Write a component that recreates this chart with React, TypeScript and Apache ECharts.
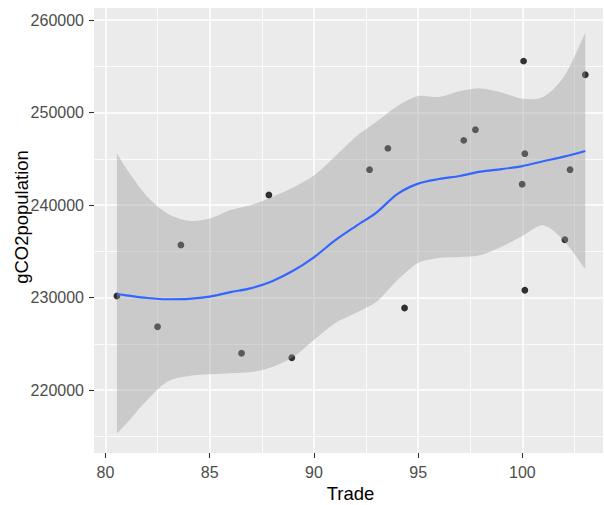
import React, { useEffect, useRef } from "react";
import * as echarts from "echarts";

// Observed points (Trade vs gCO2population)
const tradeX = [80.55, 82.5, 83.62, 86.53, 87.84, 88.94, 92.67, 93.55, 94.35, 97.19, 97.75, 99.99, 100.06, 100.12, 100.12, 102.04, 102.29, 103.02];
const gco2 = [230160, 226840, 235680, 223970, 241080, 223490, 243820, 246120, 228860, 246990, 248140, 242240, 255560, 245550, 230780, 236250, 243820, 254080];

// Smoothed (loess) fit and its confidence band
const fitX = [80.55, 81, 82, 83, 84, 85, 86, 87, 88, 89, 90, 91, 92, 93, 94, 95, 96, 97, 98, 99, 100, 101, 102, 103.02];
const fitY = [230380, 230240, 229950, 229810, 229850, 230090, 230580, 231020, 231770, 232890, 234350, 236150, 237700, 239180, 241180, 242310, 242810, 243140, 243610, 243880, 244210, 244730, 245230, 245840];
const ciLow = [215320, 216350, 218910, 220950, 221520, 221700, 221810, 221940, 222490, 223560, 225420, 227200, 228320, 229540, 231870, 233740, 234280, 234380, 234600, 235490, 236660, 237800, 236110, 233050];
const ciHigh = [245590, 243940, 240910, 239030, 238300, 238540, 239460, 240010, 240870, 241890, 243180, 245210, 247350, 248990, 250680, 251780, 251680, 252290, 252610, 252170, 251490, 251690, 253900, 258630];

// Axis ticks
const xMajor = [80, 85, 90, 95, 100];
const xMinor = [82.5, 87.5, 92.5, 97.5, 102.5];
const yMajor = [220000, 230000, 240000, 250000, 260000];
const yMinor = [215000, 225000, 235000, 245000, 255000];

const FONT = "'Liberation Sans', Arial, sans-serif";

export default function App() {
  const ref = useRef<HTMLDivElement>(null);

  useEffect(() => {
    if (!ref.current) return;
    const chart = echarts.init(ref.current, null, { renderer: "svg" });

    const gridLines: any[] = [];
    xMinor.forEach((v) => gridLines.push({ xAxis: v, lineStyle: { color: "#ffffff", width: 0.8, type: "solid" } }));
    yMinor.forEach((v) => gridLines.push({ yAxis: v, lineStyle: { color: "#ffffff", width: 0.8, type: "solid" } }));
    xMajor.forEach((v) => gridLines.push({ xAxis: v, lineStyle: { color: "#ffffff", width: 1.5, type: "solid" } }));
    yMajor.forEach((v) => gridLines.push({ yAxis: v, lineStyle: { color: "#ffffff", width: 1.5, type: "solid" } }));

    const bandRender = (params: any, api: any) => {
      if (params.dataIndex !== 0) return null;
      const n = fitX.length;
      const pts: number[][] = [];
      // upper edge, left to right (corner points doubled to keep the ends square)
      pts.push(api.coord([fitX[0], ciHigh[0]]));
      for (let i = 0; i < n; i++) pts.push(api.coord([fitX[i], ciHigh[i]]));
      pts.push(api.coord([fitX[n - 1], ciHigh[n - 1]]));
      // lower edge, right to left
      pts.push(api.coord([fitX[n - 1], ciLow[n - 1]]));
      for (let i = n - 1; i >= 0; i--) pts.push(api.coord([fitX[i], ciLow[i]]));
      pts.push(api.coord([fitX[0], ciLow[0]]));
      return {
        type: "polygon",
        shape: { points: pts, smooth: 0.3 },
        style: { fill: "rgba(153,153,153,0.4)", stroke: "none" },
        silent: true,
      };
    };

    chart.setOption({
      animation: false,
      backgroundColor: "#ffffff",
      grid: {
        left: 94,
        top: 8,
        width: 509,
        height: 445,
        show: true,
        backgroundColor: "#EBEBEB",
        borderWidth: 0,
      },
      xAxis: {
        type: "value",
        min: 79.45,
        max: 103.87,
        axisLine: { show: false },
        splitLine: { show: false },
        axisTick: {
          show: true,
          length: 5,
          customValues: xMajor,
          lineStyle: { color: "#333333", width: 1.1 },
        },
        axisLabel: {
          customValues: xMajor,
          color: "#4D4D4D",
          fontFamily: FONT,
          fontSize: 16,
          margin: 11,
          formatter: (v: number) => String(v),
        },
      },
      yAxis: {
        type: "value",
        min: 213190,
        max: 261300,
        axisLine: { show: false },
        splitLine: { show: false },
        axisTick: {
          show: true,
          length: 5,
          customValues: yMajor,
          lineStyle: { color: "#333333", width: 1.1 },
        },
        axisLabel: {
          customValues: yMajor,
          color: "#4D4D4D",
          fontFamily: FONT,
          fontSize: 16,
          margin: 10,
          formatter: (v: number) => String(v),
        },
      },
      graphic: [
        {
          type: "text",
          x: 350.5,
          y: 493,
          style: {
            text: "Trade",
            fill: "#000000",
            font: `18.5px ${FONT}`,
            textAlign: "center",
            textVerticalAlign: "middle",
          },
        },
        {
          type: "text",
          x: 21,
          y: 217,
          rotation: Math.PI / 2,
          style: {
            text: "gCO2population",
            fill: "#000000",
            font: `18.5px ${FONT}`,
            textAlign: "center",
            textVerticalAlign: "middle",
          },
        },
      ],
      series: [
        {
          type: "scatter",
          z: 2,
          symbolSize: 6.8,
          itemStyle: { color: "#000000" },
          data: tradeX.map((x, i) => [x, gco2[i]]),
          silent: true,
          markLine: {
            silent: true,
            z: 1,
            symbol: ["none", "none"],
            label: { show: false },
            emphasis: { disabled: true },
            animation: false,
            data: gridLines,
          },
        },
        {
          type: "custom",
          z: 3,
          silent: true,
          renderItem: bandRender,
          data: fitX.map((x, i) => [x, ciLow[i], ciHigh[i]]),
          encode: { x: 0, y: [1, 2] },
        },
        {
          type: "line",
          z: 4,
          symbol: "none",
          smooth: 0.3,
          silent: true,
          lineStyle: { color: "#3366FF", width: 2.2 },
          data: fitX.map((x, i) => [x, fitY[i]]),
        },
      ],
    });

    return () => chart.dispose();
  }, []);

  return (
    <div
      ref={ref}
      style={{ position: "fixed", left: 0, top: 0, width: 604, height: 505, background: "#fff" }}
    />
  );
}
